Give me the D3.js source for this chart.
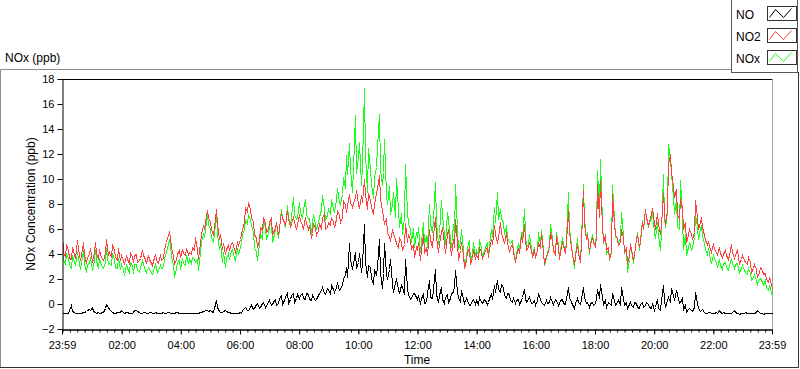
<!DOCTYPE html>
<html><head><meta charset="utf-8">
<script src="https://cdn.jsdelivr.net/npm/d3@7"></script>
<style>
body{margin:0;background:#fff}
svg{display:block;font-family:"Liberation Sans",Arial,sans-serif}
</style>
</head><body>
<svg id="chart" width="800" height="369"></svg>
<script>
// ---------- data ----------
const chartTitle = "NOx (ppb)";
const yAxisTitle = "NOx Concentration (ppb)";
const xAxisTitle = "Time";
const seriesNames = ["NO", "NO2", "NOx"];
const seriesColors = ["#000000", "#ff4040", "#19ff19"];
const yTickValues = [-2, 0, 2, 4, 6, 8, 10, 12, 14, 16, 18];
const xMajorLabels = ["23:59","02:00","04:00","06:00","08:00","10:00","12:00","14:00","16:00","18:00","20:00","22:00","23:59"];
const sampleStepMinutes = 3;

// NO (black), one value every 3 minutes from 23:59
const no = [
-0.7,-0.68,-0.72,-0.74,-0.68,-0.5,-0.1,-0.55,-0.65,-0.72,-0.7,-0.68,-0.72,-0.7,-0.6,-0.62,-0.55,-0.5,-0.4,-0.45,-0.2,-0.55,-0.6,-0.7,-0.65,-0.68,-0.7,-0.62,-0.6,-0.3,0.0,-0.2,-0.4,-0.55,-0.6,-0.7,-0.68,-0.66,-0.65,-0.6,
-0.45,-0.6,-0.7,-0.66,-0.65,-0.72,-0.75,-0.7,-0.6,-0.5,-0.45,-0.55,-0.6,-0.68,-0.7,-0.66,-0.65,-0.7,-0.72,-0.65,-0.6,-0.68,-0.7,-0.66,-0.68,-0.7,-0.72,-0.7,-0.66,-0.68,-0.7,-0.66,-0.65,-0.7,-0.72,-0.68,-0.7,-0.64,-0.6,-0.68,
-0.72,-0.74,-0.75,-0.72,-0.7,-0.72,-0.74,-0.7,-0.7,-0.74,-0.72,-0.7,-0.68,-0.64,-0.6,-0.58,-0.55,-0.5,-0.45,-0.55,-0.5,-0.58,-0.6,-0.3,0.3,-0.2,-0.55,-0.62,-0.65,-0.55,-0.5,-0.58,-0.6,-0.66,-0.7,-0.72,-0.68,-0.7,-0.72,-0.68,
-0.65,-0.7,-0.5,-0.3,-0.2,-0.5,-0.45,-0.2,-0.1,-0.4,-0.35,0.0,0.1,-0.3,-0.2,0.1,0.2,-0.2,-0.1,0.2,0.3,-0.1,0.0,0.3,0.4,-0.1,0.1,0.5,0.7,0.0,0.3,0.6,1.0,0.1,0.4,0.7,0.9,0.2,0.5,0.8,
0.5,0.7,0.9,0.5,0.4,0.9,0.8,0.4,0.3,0.7,0.6,0.3,0.4,0.7,0.9,1.1,1.4,0.9,0.8,1.3,1.2,0.8,1.5,1.2,1.0,1.4,1.7,1.1,1.2,1.6,2.0,2.4,3.0,2.2,4.9,3.6,2.8,3.3,4.2,2.9,
3.4,4.1,2.6,3.2,6.4,3.4,2.2,3.1,3.0,2.1,1.6,2.8,2.3,3.0,5.2,2.6,1.3,2.5,4.9,2.4,2.0,2.8,3.6,1.6,1.0,1.8,2.0,1.2,0.9,1.5,1.4,0.8,3.6,1.3,0.8,0.4,0.5,0.9,0.9,0.6,
0.4,0.7,0.0,0.5,0.8,0.1,0.2,0.9,1.9,0.6,0.5,1.2,2.8,0.8,0.2,0.7,1.4,0.4,0.1,0.6,0.8,0.2,0.5,0.9,1.0,1.5,2.7,1.0,0.6,0.2,1.1,0.4,0.1,0.5,0.3,-0.1,-0.1,0.3,0.4,0.0,
0.3,0.0,0.6,0.2,0.1,0.4,0.3,0.0,0.2,0.5,0.8,0.4,1.5,1.0,1.9,1.2,1.0,1.6,1.4,0.7,0.5,0.9,0.8,0.3,0.2,0.5,0.1,0.3,0.4,0.0,0.3,0.6,1.2,0.5,0.2,0.4,0.6,0.1,0.1,0.3,
-0.1,0.3,0.9,0.4,0.2,0.0,-0.1,0.3,0.1,0.2,0.6,0.2,0.0,0.4,0.3,-0.1,0.1,0.3,0.4,0.1,0.0,0.5,1.4,0.6,0.2,0.0,-0.3,0.1,0.5,0.2,0.0,0.4,1.4,0.6,0.1,0.2,-0.2,0.1,0.2,-0.1,
0.1,0.4,1.2,0.5,1.6,0.6,0.0,0.3,-0.2,0.2,0.1,-0.1,0.9,0.3,-0.1,0.2,0.3,0.0,1.4,0.5,-0.1,0.2,-0.3,0.0,0.2,-0.1,-0.2,0.2,0.1,-0.2,-0.3,0.0,0.2,-0.2,-0.1,0.2,0.0,-0.2,-0.3,0.1,
-0.5,-0.2,0.4,-0.3,-0.5,0.3,1.5,0.4,-0.2,0.3,0.6,0.2,1.3,0.7,0.3,1.1,0.8,0.1,0.2,0.5,-0.4,-0.1,-0.6,-0.4,-0.3,-0.5,-0.55,-0.2,1.0,0.1,-0.3,-0.55,-0.5,-0.4,-0.6,-0.7,-0.7,-0.6,-0.65,-0.72,
-0.7,-0.74,-0.65,-0.7,-0.5,-0.62,-0.72,-0.66,-0.68,-0.72,-0.75,-0.68,-0.7,-0.62,-0.5,-0.66,-0.72,-0.74,-0.78,-0.72,-0.7,-0.68,-0.65,-0.72,-0.75,-0.7,-0.72,-0.75,-0.68,-0.62,-0.5,-0.66,-0.72,-0.74,-0.76,-0.72,-0.7,-0.74,-0.72,-0.7,-0.75
];

// NO2 (red)
const no2 = [
5.8,4.2,3.8,4.8,4.3,3.7,3.6,4.6,4.0,3.7,5.1,4.4,3.5,3.9,5.0,3.9,3.3,3.8,4.0,4.5,3.4,3.6,5.0,4.1,3.6,4.4,4.0,3.6,3.5,4.1,5.2,3.9,4.2,3.8,4.8,4.3,3.8,3.5,4.5,3.5,
3.9,3.5,3.2,3.9,3.6,3.3,4.2,3.8,3.4,3.9,4.0,3.4,3.5,3.7,4.3,3.9,3.6,3.3,3.9,3.6,3.3,3.1,3.8,3.9,3.4,3.3,4.0,3.5,3.7,4.4,5.0,5.3,5.8,5.4,4.6,3.9,3.2,3.6,4.0,4.3,
3.8,4.4,4.1,3.9,4.5,4.0,4.2,4.0,4.6,4.3,5.4,4.4,3.6,4.9,5.6,6.3,6.0,6.6,7.5,7.0,6.6,6.0,5.5,6.2,7.6,6.5,5.2,5.6,4.4,4.9,4.0,4.4,4.7,4.3,4.9,5.0,4.4,4.2,5.0,4.7,
5.2,5.5,6.0,6.6,7.8,7.4,8.2,7.6,7.0,6.6,5.6,5.3,4.6,5.1,6.2,5.9,7.0,6.5,5.8,6.0,6.6,6.9,5.6,5.9,6.2,6.6,5.5,6.1,7.4,6.9,6.6,6.3,7.5,6.9,6.2,6.5,7.0,6.6,6.0,6.4,
7.2,6.7,6.3,6.0,7.0,6.5,6.0,6.3,5.3,5.7,6.5,6.1,5.5,5.9,6.4,6.1,6.9,7.3,6.0,6.2,6.6,6.3,7.0,6.6,6.2,6.8,7.5,7.1,6.6,7.0,8.3,7.9,7.4,7.9,8.8,8.2,7.8,8.1,8.6,9.1,
8.0,7.7,8.7,8.2,10.0,8.8,7.6,8.9,8.3,7.8,7.2,8.0,8.9,9.3,10.3,8.5,7.5,7.0,6.5,6.9,5.8,5.4,5.1,5.9,5.7,5.2,4.9,4.5,5.4,5.0,4.3,4.8,6.5,5.0,5.6,5.1,4.4,4.8,3.8,4.6,
4.4,5.0,3.5,4.4,5.6,4.2,4.5,3.9,6.0,5.2,4.6,5.5,7.0,5.4,4.2,4.9,5.8,6.2,4.8,4.1,5.6,6.0,4.5,3.9,5.2,4.6,6.8,5.0,3.5,4.3,5.0,4.0,2.9,3.5,4.2,4.5,3.2,3.7,4.4,3.6,
4.0,3.6,4.6,4.2,3.7,4.1,4.3,4.6,3.8,4.4,5.2,4.8,6.3,5.6,4.9,5.4,6.6,5.7,5.2,4.9,5.8,5.0,4.2,4.5,4.9,4.2,3.4,3.9,4.5,4.1,5.5,5.0,6.4,5.3,4.3,4.6,5.0,4.3,3.8,4.4,
3.8,4.3,4.9,4.6,5.7,4.2,3.2,3.9,4.0,4.5,5.8,5.1,4.3,4.0,5.5,4.6,3.6,4.2,5.0,4.7,4.1,5.0,7.5,5.8,4.6,4.0,3.2,3.9,4.8,4.1,3.4,5.0,9.1,6.5,5.2,5.6,4.2,4.8,5.4,5.0,
4.6,5.5,9.6,7.0,9.9,6.3,5.0,5.5,4.3,4.6,3.6,4.2,8.8,6.4,5.6,5.2,4.7,5.0,6.0,5.4,4.2,4.6,3.2,3.9,4.8,4.4,3.5,4.0,5.2,5.6,4.6,5.0,6.6,6.1,7.6,7.0,6.3,6.6,7.2,7.7,
6.5,6.0,7.3,6.4,5.6,6.3,8.9,7.4,6.4,7.5,11.2,12.0,10.6,9.4,8.6,9.2,7.2,6.8,8.5,7.8,6.0,6.6,5.0,5.5,6.0,5.6,5.2,5.8,8.3,7.0,6.0,6.6,7.0,6.2,5.5,5.1,4.8,5.0,4.4,4.2,
4.9,4.4,4.2,4.0,4.6,4.1,3.8,4.0,4.3,3.9,3.6,3.9,4.8,4.2,3.7,3.9,4.4,3.8,3.3,3.6,3.9,3.5,3.4,3.2,3.8,3.4,2.6,2.9,3.2,2.8,2.2,2.6,3.0,2.7,2.4,2.5,2.0,1.8,2.2,1.6,1.2
];

// NOx (green)
const nox = [
4.4,3.6,3.2,4.1,3.7,3.1,2.9,3.9,3.4,3.1,4.2,3.7,2.8,3.3,4.3,3.3,2.6,3.2,3.3,3.8,2.7,3.0,4.4,3.5,2.9,3.7,3.4,3.0,2.9,3.4,4.5,3.2,3.3,3.1,4.1,3.6,3.0,2.9,3.7,2.8,
3.2,2.8,2.3,3.2,2.9,2.6,3.4,3.1,2.5,3.2,3.2,2.7,2.6,3.0,3.5,3.2,2.7,2.6,3.0,2.9,2.5,2.4,3.0,3.2,2.6,2.7,3.1,2.9,3.0,3.7,4.2,4.6,5.1,4.8,3.8,3.2,2.2,2.9,3.4,3.6,
2.8,3.7,3.3,3.1,3.9,3.3,3.6,3.3,3.8,3.6,3.4,3.6,2.7,4.2,5.0,5.7,5.4,5.9,7.2,6.4,6.0,5.4,5.0,5.6,7.4,5.7,4.4,4.9,3.4,4.2,3.0,3.7,4.1,3.6,4.3,4.4,3.7,3.5,4.5,4.0,
4.6,5.0,5.6,6.0,6.8,6.4,7.2,6.8,6.3,5.8,4.6,4.2,3.5,4.8,5.6,5.3,6.8,6.1,5.3,5.6,6.3,6.6,5.0,5.6,6.0,6.5,5.3,6.0,7.6,6.9,6.5,6.2,7.9,7.0,6.3,7.0,8.6,7.2,6.8,6.9,
8.2,7.4,6.9,7.6,8.4,7.2,6.8,6.9,5.6,6.6,7.2,6.4,6.0,6.6,7.0,7.6,8.7,7.6,6.8,7.1,7.6,7.2,8.4,7.6,7.4,8.3,9.3,8.2,8.0,8.8,10.2,9.3,11.9,10.4,12.9,10.8,9.0,10.9,15.1,10.5,
11.8,13.0,9.5,11.2,17.3,12.0,9.0,12.5,10.8,9.6,8.5,10.2,11.0,12.6,15.2,10.8,9.5,10.6,13.2,8.8,8.0,9.4,7.2,8.0,9.0,7.0,10.1,7.6,6.2,7.3,5.6,7.0,11.2,7.4,6.5,6.0,5.0,6.1,4.6,5.8,
5.4,6.2,4.2,5.0,6.6,4.8,5.5,4.6,8.0,6.4,5.8,6.8,9.8,6.6,4.8,5.7,8.3,7.2,5.6,4.8,7.4,6.8,5.2,4.6,6.4,5.4,9.6,6.0,4.4,5.0,6.0,4.4,2.9,3.8,4.6,5.1,3.4,4.0,5.0,3.9,
4.3,3.9,5.2,4.5,3.8,4.3,4.6,4.9,4.0,4.7,6.0,5.4,7.8,6.6,9.0,6.8,7.6,6.9,6.6,5.6,6.3,5.4,5.0,4.9,5.1,4.3,3.5,4.1,4.9,4.4,5.8,5.2,7.6,5.8,4.5,4.9,5.6,4.5,3.9,4.6,
3.7,4.4,5.8,4.8,5.9,4.4,3.1,3.8,4.1,4.7,6.4,5.3,4.3,4.1,5.8,4.7,3.7,4.3,5.4,4.9,4.1,5.3,9.0,6.0,4.8,4.0,2.9,3.9,5.3,4.2,3.4,5.3,9.6,6.8,5.3,5.8,4.0,4.9,5.6,5.1,
4.7,5.8,10.7,7.6,11.6,6.6,4.9,5.6,4.0,4.4,3.5,4.3,9.5,6.9,5.4,5.4,4.9,5.4,7.4,5.5,4.1,4.5,2.6,3.6,4.9,4.3,3.3,4.0,5.2,5.8,4.3,5.2,6.7,6.0,7.5,7.0,6.2,6.6,6.9,7.4,
5.8,5.3,6.6,5.6,4.3,5.8,10.4,7.0,6.2,7.4,12.8,11.6,10.4,8.6,7.2,8.4,6.2,6.0,9.9,7.0,4.4,5.6,3.9,4.6,5.0,4.4,4.6,5.4,7.2,6.2,5.2,6.1,6.3,5.5,4.9,4.4,4.0,4.5,3.6,3.3,
4.0,3.6,3.4,3.0,3.6,3.1,2.8,3.3,3.4,3.0,2.7,3.1,3.7,3.3,2.9,3.2,3.3,2.9,2.6,2.9,3.1,2.7,2.6,2.4,2.9,2.5,1.9,2.2,2.4,1.9,1.6,2.0,2.1,1.8,1.6,1.9,1.3,1.1,1.5,1.0,0.6
];

// ---------- layout ----------
const plot = {left: 62, top: 79, right: 772, bottom: 329};
const startTime = new Date(2000, 0, 1, 23, 59);
const endTime = d3.timeMinute.offset(startTime, 24 * 60);
const times = no.map((_, i) => d3.timeMinute.offset(startTime, i * sampleStepMinutes));

const svg = d3.select("#chart");
const x = d3.scaleTime().domain([startTime, endTime]).range([plot.left, plot.right]);
const y = d3.scaleLinear().domain([-2, 18]).range([plot.bottom, plot.top]);

// outer frame
svg.append("path").attr("d", "M0.5,367.5V69.5H731").attr("fill", "none").attr("stroke", "#8c8c8c");
svg.append("path").attr("d", "M0,367.5H798.5V72").attr("fill", "none").attr("stroke", "#303030");

// chart title
svg.append("text").attr("x", 5).attr("y", 62).attr("font-size", 12).attr("fill", "#000").text(chartTitle);

// clip
svg.append("clipPath").attr("id", "clip").append("rect")
  .attr("x", plot.left + 1).attr("y", plot.top).attr("width", plot.right - plot.left).attr("height", plot.bottom - plot.top);

// plot border (top black, right grey)
svg.append("line").attr("x1", plot.left).attr("x2", plot.right + 1).attr("y1", plot.top + 0.5).attr("y2", plot.top + 0.5).attr("stroke", "#000");
svg.append("line").attr("x1", plot.right + 0.5).attr("x2", plot.right + 0.5).attr("y1", plot.top).attr("y2", plot.bottom).attr("stroke", "#a0a0a0");

// lines (NOx first, then NO2, then NO on top)
const drawOrder = [[nox, seriesColors[2]], [no2, seriesColors[1]], [no, seriesColors[0]]];
const lineGen = d3.line().x((d, i) => Math.round(x(times[i])) + 0.5).y(d => Math.round(y(d)) + 0.5);
const gLines = svg.append("g").attr("clip-path", "url(#clip)");
drawOrder.forEach(([arr, col]) => {
  gLines.append("path").datum(arr).attr("d", lineGen)
    .attr("fill", "none").attr("stroke", col).attr("stroke-width", 1)
    .attr("shape-rendering", "crispEdges");
});

// x axis: minor ticks every 15 min, major every 2 h
const minorTicks = d3.timeMinute.every(15).range(d3.timeMinute.offset(startTime, 1), endTime);
const majorTicks = [startTime].concat(d3.timeHour.every(2).range(d3.timeMinute.offset(startTime, 2), endTime)).concat([endTime]);
const xMinor = d3.axisBottom(x).tickValues(minorTicks).tickSize(3).tickSizeOuter(0).tickFormat("");
const gxm = svg.append("g").attr("transform", `translate(0,${plot.bottom + 0.5})`).call(xMinor);
gxm.select(".domain").attr("stroke", "#000");
const xMajor = d3.axisBottom(x).tickValues(majorTicks).tickSize(5).tickSizeOuter(0).tickPadding(7)
  .tickFormat((d, i) => xMajorLabels[i]);
const gx = svg.append("g").attr("transform", `translate(0,${plot.bottom + 0.5})`).call(xMajor);
gx.attr("font-family", null).attr("font-size", null);
gx.selectAll("text").attr("font-size", 11).attr("fill", "#000");
gx.selectAll("line").attr("stroke", "#000");
gx.select(".domain").attr("stroke", "#000");

// y axis
const yAxis = d3.axisLeft(y).tickValues(yTickValues).tickSize(5).tickSizeOuter(0).tickPadding(3);
const gy = svg.append("g").attr("transform", `translate(${plot.left + 0.5},0)`).call(yAxis);
gy.attr("font-family", null).attr("font-size", null);
gy.selectAll("text").attr("font-size", 11).attr("fill", "#000");
gy.select(".domain").attr("stroke", "#000");

// axis titles
svg.append("text").attr("transform", `translate(35,${(plot.top + plot.bottom) / 2}) rotate(-90)`)
  .attr("text-anchor", "middle").attr("font-size", 12).attr("fill", "#000").text(yAxisTitle);
svg.append("text").attr("x", (plot.left + plot.right) / 2).attr("y", 364)
  .attr("text-anchor", "middle").attr("font-size", 12).attr("fill", "#000").text(xAxisTitle);

// legend
const lg = svg.append("g");
lg.append("rect").attr("x", 731.5).attr("y", -0.5).attr("width", 66).attr("height", 73)
  .attr("fill", "#fff").attr("stroke", "#555");
seriesNames.forEach((name, k) => {
  const cy = 14 + k * 22;
  lg.append("text").attr("x", 736).attr("y", cy + 4.5).attr("font-size", 12).attr("fill", "#000").text(name);
  const bx = 767.5, by = cy - 7.5;
  lg.append("rect").attr("x", bx).attr("y", by).attr("width", 29).attr("height", 14)
    .attr("fill", "#fff").attr("stroke", "#333");
  lg.append("polyline")
    .attr("points", [[bx + 2, by + 11], [bx + 8, by + 3], [bx + 16, by + 11], [bx + 24, by + 2]].map(p => p.join(",")).join(" "))
    .attr("fill", "none").attr("stroke", seriesColors[k]).attr("stroke-width", 1);
});
</script>
</body></html>
